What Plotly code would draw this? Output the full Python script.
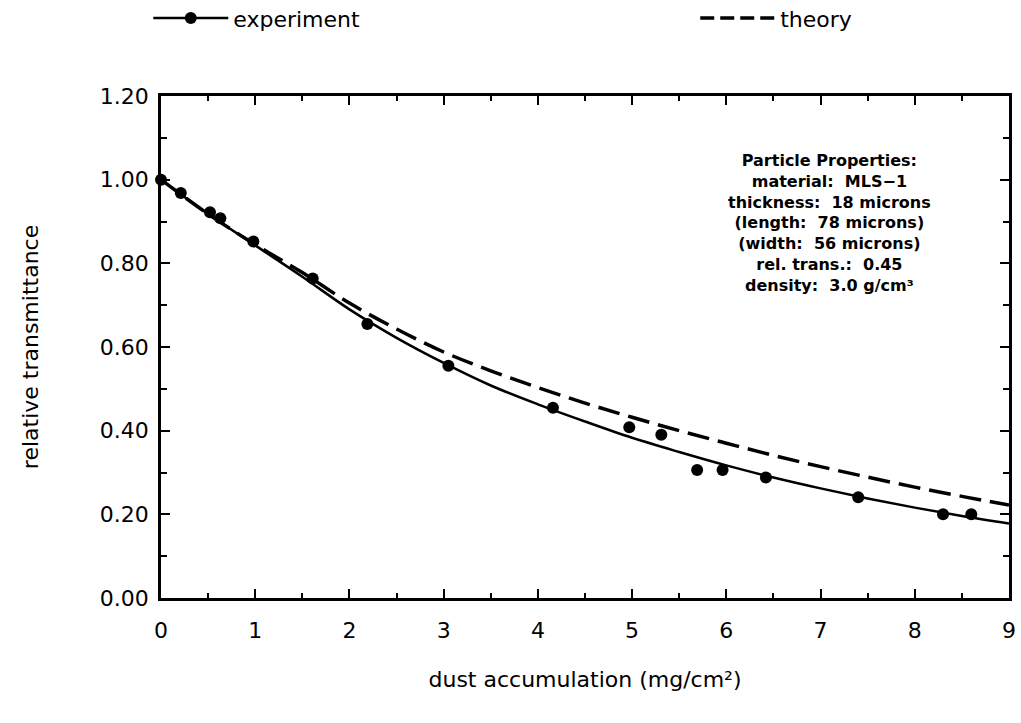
import plotly.graph_objects as go

# measured points (experiment)
exp_x = [0.0, 0.21, 0.52, 0.63, 0.98, 1.61, 2.19, 3.05, 4.16, 4.97, 5.31, 5.69, 5.96, 6.42, 7.40, 8.30, 8.60]
exp_y = [1.00, 0.968, 0.922, 0.908, 0.852, 0.764, 0.655, 0.555, 0.455, 0.408, 0.390, 0.306, 0.306, 0.288, 0.241, 0.200, 0.200]

# curves
curve_x = [0, 0.5, 1, 1.5, 2, 2.5, 3, 3.5, 4, 4.5, 5, 5.5, 6, 6.5, 7, 7.5, 8, 8.5, 9]
fit_y = [1.00, 0.918, 0.843, 0.768, 0.690, 0.622, 0.562, 0.508, 0.463, 0.422, 0.383, 0.349, 0.317, 0.288, 0.262, 0.238, 0.216, 0.196, 0.178]
theory_y = [1.00, 0.918, 0.845, 0.778, 0.705, 0.643, 0.588, 0.543, 0.503, 0.466, 0.432, 0.400, 0.370, 0.341, 0.314, 0.289, 0.265, 0.243, 0.222]

x_ticks = list(range(0, 10))
y_ticks = [0.0, 0.2, 0.4, 0.6, 0.8, 1.0, 1.2]
y_tick_text = ["0.00", "0.20", "0.40", "0.60", "0.80", "1.00", "1.20"]

FONT = "DejaVu Sans"
NB = "\u00a0"
props = [
    "Particle Properties:",
    f"material:{NB*2}MLS\u22121",
    f"thickness:{NB*2}18{NB}microns",
    f"(length:{NB*2}78{NB}microns)",
    f"(width:{NB*2}56{NB}microns)",
    f"rel.{NB}trans.:{NB*2}0.45",
    f"density:{NB*2}3.0{NB}g/cm\u00b3",
]

fig = go.Figure()
fig.add_trace(go.Scatter(x=curve_x, y=fit_y, mode="lines", line=dict(color="black", width=2.5, shape="spline"),
                         showlegend=False, hoverinfo="skip"))
fig.add_trace(go.Scatter(x=curve_x, y=theory_y, mode="lines",
                         line=dict(color="black", width=3.5, dash="22px,9px", shape="spline"),
                         showlegend=False, hoverinfo="skip"))
fig.add_trace(go.Scatter(x=exp_x, y=exp_y, mode="markers", marker=dict(color="black", size=12),
                         showlegend=False, cliponaxis=False))
# legend entries
fig.add_trace(go.Scatter(x=[None], y=[None], mode="lines+markers", name="experiment", legend="legend",
                         line=dict(color="black", width=2.5), marker=dict(color="black", size=12)))
fig.add_trace(go.Scatter(x=[None], y=[None], mode="lines", name="theory", legend="legend2",
                         line=dict(color="black", width=3.5, dash="14px,6px")))

fig.add_annotation(x=7.1, y=0.897, xref="x", yref="y", text="<br>".join("<b>" + p + "</b>" for p in props),
                   showarrow=False, align="center", font=dict(family=FONT, size=16, color="black"))

axis_common = dict(showline=True, linecolor="black", linewidth=2.5, mirror="ticks", ticks="inside",
                   tickcolor="black", tickwidth=2, showgrid=False, zeroline=False,
                   tickfont=dict(family=FONT, size=22, color="black"))

fig.update_xaxes(range=[0, 9], tickvals=x_ticks, ticklen=9, ticklabelstandoff=11,
                 minor=dict(dtick=0.5, ticks="inside", ticklen=5, tickcolor="black", tickwidth=1.5),
                 title=dict(text="dust accumulation (mg/cm\u00b2)", font=dict(family=FONT, size=22, color="black"),
                            standoff=30),
                 **axis_common)
fig.update_yaxes(range=[0, 1.2], tickvals=y_ticks, ticktext=y_tick_text, ticklen=9, ticklabelstandoff=5,
                 minor=dict(dtick=0.1, ticks="inside", ticklen=6, tickcolor="black", tickwidth=1.5),
                 title=dict(text="relative transmittance", font=dict(family=FONT, size=22, color="black"),
                            standoff=56),
                 **axis_common)

legend_common = dict(orientation="h", y=1.155, xanchor="left", yanchor="middle",
                     font=dict(family=FONT, size=22, color="black"), bgcolor="rgba(0,0,0,0)", itemwidth=75)

fig.update_layout(
    width=1021, height=723,
    margin=dict(l=161, r=12, t=96, b=125, autoexpand=False),
    paper_bgcolor="white", plot_bgcolor="white",
    font=dict(family=FONT, size=22, color="black"),
    legend=dict(x=-0.015, **legend_common),
    legend2=dict(x=0.63, **legend_common),
)

fig.write_html("out.html")
